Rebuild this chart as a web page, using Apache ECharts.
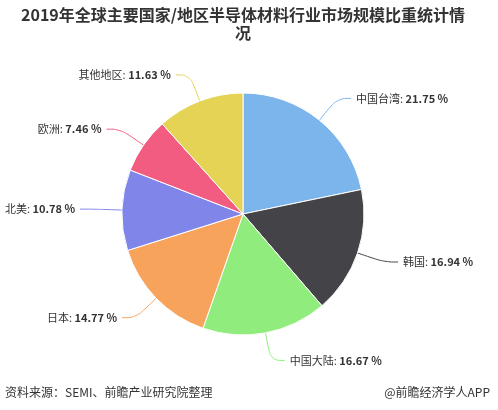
<!DOCTYPE html>
<html><head><meta charset="utf-8">
<script src="https://cdn.jsdelivr.net/npm/echarts@6/dist/echarts.min.js"></script>
<style>html,body{margin:0;padding:0;background:#fff}#c{width:498px;height:410px}</style>
</head><body><div id="c"></div>
<script>
const titleText = '2019年全球主要国家/地区半导体材料行业市场规模比重统计情\n况';
const categories = ['中国台湾','韩国','中国大陆','日本','北美','欧洲','其他地区'];
const values = [21.75, 16.94, 16.67, 14.77, 10.78, 7.46, 11.63];
const colors = ['#7cb5ec','#434348','#90ed7d','#f7a35c','#8085e9','#f15c80','#e4d354'];
const sourceText = '资料来源：SEMI、前瞻产业研究院整理';
const brandText = '@前瞻经济学人APP';

const chart = echarts.init(document.getElementById('c'), null, {renderer:'canvas'});
const font = '"Microsoft YaHei","Noto Sans CJK SC",sans-serif';
chart.setOption({
  animation:false,
  graphic:[
    {type:'text', x:243, y:6, style:{text:titleText, font:'bold 16px '+font, fill:'#333', align:'center', lineHeight:18}},
    {type:'text', left:5, top:386, style:{text:sourceText, font:'12px '+font, fill:'#333'}},
    {type:'text', right:8, top:386, style:{text:brandText, font:'12px '+font, fill:'#333'}}
  ],
  series:[{
    type:'pie',
    center:[243,214],
    radius:[0,121],
    startAngle:90,
    clockwise:true,
    data:categories.map((n,i)=>({name:n, value:values[i], itemStyle:{color:colors[i]}, labelLine:{lineStyle:{color:colors[i]}}})),
    itemStyle:{borderColor:'#fff', borderWidth:1},
    label:{
      overflow:'none',
      formatter:p=>'{n|'+p.name+': }{v|'+p.value.toFixed(2)+' %}',
      rich:{
        n:{fontFamily:font, fontSize:11, color:'#333'},
        v:{fontFamily:font, fontSize:11, fontWeight:'bold', color:'#333'}
      }
    },
    labelLine:{show:true, length:28, length2:14, smooth:0.4, lineStyle:{width:1}}
  }]
});
</script></body></html>
